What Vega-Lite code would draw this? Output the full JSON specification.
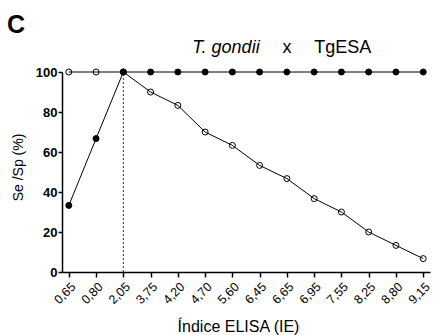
{
  "$schema": "https://vega.github.io/schema/vega-lite/v6.json",
  "width": 368,
  "height": 200,
  "autosize": {"type": "none"},
  "padding": {"left": 62, "top": 72, "right": 5, "bottom": 63},
  "background": "white",
  "config": {
    "font": "Liberation Sans",
    "view": {"stroke": null},
    "axis": {
      "grid": false,
      "domainColor": "black",
      "tickColor": "black",
      "labelColor": "black",
      "titleColor": "black",
      "domainWidth": 1.5,
      "tickWidth": 1.5,
      "titleFontWeight": "normal",
      "labelOverlap": false
    },
    "axisY": {
      "labelFontWeight": "bold",
      "labelFontSize": 13,
      "tickSize": 4,
      "labelPadding": 1,
      "titleFontSize": 14,
      "titleAngle": -90,
      "titleX": -40,
      "titleY": 95,
      "titleAlign": "center",
      "titleBaseline": "alphabetic"
    }
  },
  "title": {
    "text": "C",
    "anchor": "start",
    "frame": "group",
    "dx": -55,
    "offset": 1,
    "fontSize": 25,
    "fontWeight": "bold",
    "font": "Liberation Sans",
    "color": "black"
  },
  "data": {
    "values": [
      {"ie": "0,65", "se": 33.3, "sp": 100},
      {"ie": "0,80", "se": 66.7, "sp": 100},
      {"ie": "2,05", "se": 100, "sp": 100},
      {"ie": "3,75", "se": 100, "sp": 90},
      {"ie": "4,20", "se": 100, "sp": 83.3},
      {"ie": "4,70", "se": 100, "sp": 70},
      {"ie": "5,60", "se": 100, "sp": 63.3},
      {"ie": "6,45", "se": 100, "sp": 53.3},
      {"ie": "6,65", "se": 100, "sp": 46.7},
      {"ie": "6,95", "se": 100, "sp": 36.7},
      {"ie": "7,55", "se": 100, "sp": 30},
      {"ie": "8,25", "se": 100, "sp": 20},
      {"ie": "8,80", "se": 100, "sp": 13.3},
      {"ie": "9,15", "se": 100, "sp": 6.7}
    ]
  },
  "transform": [{"fold": ["se", "sp"], "as": ["serie", "valor"]}],
  "encoding": {
    "x": {
      "field": "ie",
      "type": "ordinal",
      "scale": {"type": "point", "padding": 0.25},
      "axis": {
        "title": "Índice ELISA (IE)",
        "labelAngle": -45,
        "labelFontSize": 12.5,
        "tickSize": 5,
        "labelPadding": 3,
        "titleFontSize": 16,
        "titleX": 176,
        "titleY": 59.5,
        "titleBaseline": "alphabetic"
      }
    }
  },
  "layer": [
    {
      "mark": {"type": "line", "color": "black", "strokeWidth": 1},
      "encoding": {
        "y": {
          "field": "valor",
          "type": "quantitative",
          "scale": {"domain": [0, 100], "nice": false},
          "axis": {"values": [0, 20, 40, 60, 80, 100], "title": "Se /Sp (%)", "labelOverlap": false}
        },
        "detail": {"field": "serie", "type": "nominal"}
      }
    },
    {
      "mark": {"type": "point", "shape": "circle", "stroke": "black", "strokeWidth": 1, "size": 36, "opacity": 1},
      "encoding": {
        "y": {
          "field": "valor",
          "type": "quantitative",
          "scale": {"domain": [0, 100], "nice": false},
          "axis": {"values": [0, 20, 40, 60, 80, 100], "title": "Se /Sp (%)", "labelOverlap": false}
        },
        "fill": {
          "field": "serie",
          "type": "nominal",
          "scale": {"domain": ["se", "sp"], "range": ["black", "transparent"]},
          "legend": null
        }
      }
    },
    {
      "data": {"values": [{"corte": "2,05"}]},
      "mark": {"type": "rule", "strokeDash": [2, 2], "color": "black", "strokeWidth": 0.8},
      "encoding": {
        "x": {"field": "corte", "type": "ordinal"},
        "y": {
          "datum": 0,
          "type": "quantitative",
          "scale": {"domain": [0, 100], "nice": false},
          "axis": {"values": [0, 20, 40, 60, 80, 100], "title": "Se /Sp (%)", "labelOverlap": false}
        },
        "y2": {"datum": 100}
      }
    },
    {
      "data": {"values": [{"t": "T. gondii", "pos": "6,45"}]},
      "mark": {"type": "text", "align": "right", "baseline": "alphabetic", "fontSize": 18, "fontStyle": "italic", "color": "black"},
      "encoding": {
        "x": {"field": "pos", "type": "ordinal"},
        "y": {
          "datum": 109.6,
          "type": "quantitative",
          "scale": {"domain": [0, 100], "nice": false},
          "axis": {"values": [0, 20, 40, 60, 80, 100], "title": "Se /Sp (%)", "labelOverlap": false}
        },
        "text": {"field": "t"}
      }
    },
    {
      "data": {"values": [{"t": "x", "pos": "6,65"}]},
      "mark": {"type": "text", "align": "center", "baseline": "alphabetic", "fontSize": 18, "color": "black"},
      "encoding": {
        "x": {"field": "pos", "type": "ordinal"},
        "y": {
          "datum": 109.6,
          "type": "quantitative",
          "scale": {"domain": [0, 100], "nice": false},
          "axis": {"values": [0, 20, 40, 60, 80, 100], "title": "Se /Sp (%)", "labelOverlap": false}
        },
        "text": {"field": "t"}
      }
    },
    {
      "data": {"values": [{"t": "TgESA", "pos": "6,95"}]},
      "mark": {"type": "text", "align": "left", "baseline": "alphabetic", "fontSize": 18, "color": "black"},
      "encoding": {
        "x": {"field": "pos", "type": "ordinal"},
        "y": {
          "datum": 109.6,
          "type": "quantitative",
          "scale": {"domain": [0, 100], "nice": false},
          "axis": {"values": [0, 20, 40, 60, 80, 100], "title": "Se /Sp (%)", "labelOverlap": false}
        },
        "text": {"field": "t"}
      }
    }
  ]
}
